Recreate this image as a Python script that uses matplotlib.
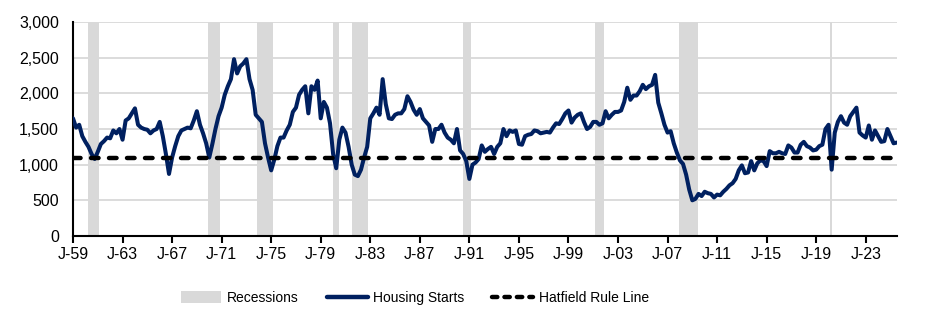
import matplotlib
matplotlib.use('Agg')
from matplotlib import pyplot as plt
from matplotlib.patches import Patch
from matplotlib.lines import Line2D
import numpy as np

plt.rcParams['font.family'] = ['Liberation Sans', 'DejaVu Sans']

# quarterly housing starts (thousands, SAAR), starting 1959 Q1
first_year = 1959
starts = [
    1650, 1520, 1560, 1400,   # 1959
    1320, 1250, 1150, 1080,   # 1960
    1180, 1290, 1330, 1380,   # 1961
    1370, 1480, 1440, 1500,   # 1962
    1350, 1620, 1650, 1720,   # 1963
    1790, 1560, 1520, 1500,   # 1964
    1490, 1440, 1480, 1500,   # 1965
    1600, 1400, 1150, 870,    # 1966
    1100, 1260, 1400, 1480,   # 1967
    1500, 1520, 1510, 1620,   # 1968
    1750, 1560, 1440, 1300,   # 1969
    1100, 1290, 1500, 1680,   # 1970
    1800, 1980, 2100, 2200,   # 1971
    2480, 2280, 2380, 2420,   # 1972
    2480, 2200, 2050, 1700,   # 1973
    1650, 1600, 1300, 1100,   # 1974
    920, 1070, 1260, 1380,    # 1975
    1380, 1480, 1560, 1740,   # 1976
    1800, 1980, 2050, 2100,   # 1977
    1720, 2100, 2050, 2180,   # 1978
    1650, 1880, 1800, 1580,   # 1979
    1150, 950, 1350, 1520,    # 1980
    1450, 1250, 1000, 860,    # 1981
    840, 930, 1100, 1250,     # 1982
    1650, 1720, 1800, 1700,   # 1983
    2200, 1850, 1650, 1640,   # 1984
    1700, 1720, 1720, 1780,   # 1985
    1960, 1880, 1770, 1700,   # 1986
    1780, 1650, 1600, 1550,   # 1987
    1320, 1500, 1500, 1560,   # 1988
    1450, 1380, 1350, 1300,   # 1989
    1500, 1200, 1150, 1050,   # 1990
    800, 1000, 1030, 1080,    # 1991
    1270, 1180, 1220, 1250,   # 1992
    1150, 1250, 1300, 1500,   # 1993
    1400, 1480, 1460, 1480,   # 1994
    1290, 1280, 1400, 1420,   # 1995
    1430, 1480, 1470, 1440,   # 1996
    1450, 1460, 1450, 1520,   # 1997
    1580, 1570, 1640, 1720,   # 1998
    1760, 1590, 1660, 1700,   # 1999
    1720, 1600, 1500, 1530,   # 2000
    1600, 1600, 1560, 1580,   # 2001
    1750, 1650, 1700, 1740,   # 2002
    1740, 1760, 1880, 2080,   # 2003
    1910, 1970, 1970, 2030,   # 2004
    2120, 2060, 2100, 2120,   # 2005
    2260, 1870, 1720, 1560,   # 2006
    1450, 1470, 1300, 1170,   # 2007
    1060, 1010, 860, 650,     # 2008
    500, 520, 590, 560,       # 2009
    620, 600, 590, 540,       # 2010
    580, 570, 620, 660,       # 2011
    710, 740, 800, 920,       # 2012
    990, 880, 890, 1050,      # 2013
    920, 1020, 1060, 1050,    # 2014
    980, 1190, 1160, 1160,    # 2015
    1180, 1160, 1150, 1270,   # 2016
    1240, 1170, 1170, 1280,   # 2017
    1320, 1260, 1240, 1200,   # 2018
    1210, 1260, 1280, 1500,   # 2019
    1560, 930, 1450, 1600,    # 2020
    1680, 1590, 1560, 1680,   # 2021
    1740, 1800, 1450, 1410,   # 2022
    1380, 1550, 1350, 1480,   # 2023
    1400, 1320, 1330, 1500,   # 2024
    1400, 1300, 1310,         # 2025
]

# recession periods (decimal years)
rec_start = [1960.25, 1969.92, 1973.83, 1980.0, 1981.5, 1990.5, 2001.17, 2007.92, 2020.08]
rec_end = [1961.08, 1970.83, 1975.17, 1980.5, 1982.83, 1991.17, 2001.83, 2009.42, 2020.25]

hatfield_level = 1100

tick_years = list(range(1959, 2024, 4))
tick_labels = ['J-%02d' % (y % 100) for y in tick_years]

x = first_year + np.arange(len(starts)) * 0.25

fig = plt.figure(figsize=(9.36, 3.3), dpi=100)
ax = fig.add_axes([0.078, 0.285, 0.880, 0.648])

for s, e in zip(rec_start, rec_end):
    ax.axvspan(s, e, color='#d9d9d9', lw=0, zorder=1)

ax.plot(x, starts, color='#002060', lw=2.9, zorder=3, solid_joinstyle='round',
        solid_capstyle='round')
ax.axhline(hatfield_level, color='black', lw=3.2, ls=(0, (1.7, 2.35)),
           dash_capstyle='round', zorder=4)

ax.set_xlim(1959, 2025.5)
ax.set_ylim(0, 3000)
ax.set_yticks(range(0, 3001, 500))
ax.set_yticklabels(['{:,}'.format(v) for v in range(0, 3001, 500)], fontsize=11.5)
ax.set_xticks(tick_years)
ax.set_xticklabels(tick_labels, fontsize=11.5)
ax.tick_params(axis='y', length=0, pad=10)
ax.tick_params(axis='x', length=5, width=1.5, direction='out', pad=3)

ax.grid(axis='y', color='#d9d9d9', lw=1.3, zorder=0)
ax.set_axisbelow(True)
for side in ['top', 'right']:
    ax.spines[side].set_visible(False)
for side in ['left', 'bottom']:
    ax.spines[side].set_color('black')
    ax.spines[side].set_linewidth(1.5)

handles = [
    Patch(facecolor='#d9d9d9', edgecolor='none', label='Recessions'),
    Line2D([0], [0], color='#002060', lw=3.2, solid_capstyle='round', label='Housing Starts'),
    Line2D([0], [0], color='black', lw=3.2, ls=(0, (1.2, 1.6)), dash_capstyle='round',
           label='Hatfield Rule Line'),
]
fig.legend(handles=handles, loc='center', bbox_to_anchor=(0.443, 0.097), ncol=3,
           frameon=False, fontsize=10, handlelength=2.95, columnspacing=2.0,
           handletextpad=0.4, handleheight=0.9)

fig.savefig('out.png', dpi=100)
